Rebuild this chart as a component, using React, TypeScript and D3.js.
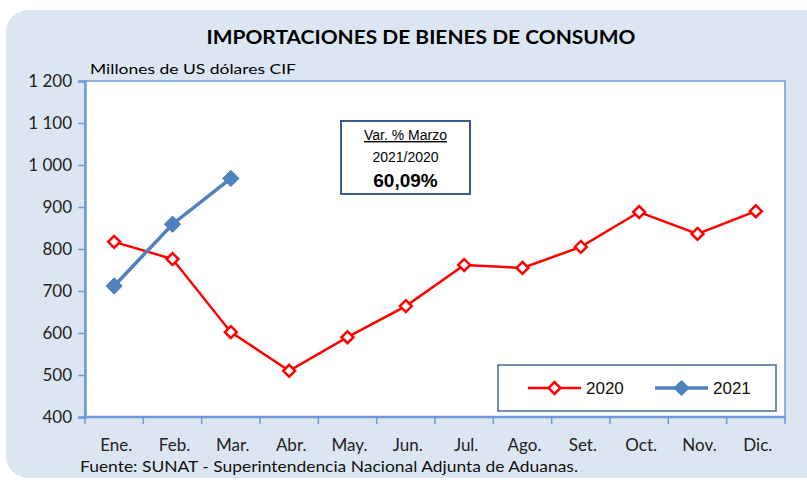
import React, { useEffect, useRef } from "react";
import * as d3 from "d3";

// data
const months = ["Ene.", "Feb.", "Mar.", "Abr.", "May.", "Jun.", "Jul.", "Ago.", "Set.", "Oct.", "Nov.", "Dic."];
const values2020 = [817, 776, 602, 510, 590, 664, 762, 755, 805, 888, 836, 890];
const values2021 = [712, 859, 968];
const yTicks = [400, 500, 600, 700, 800, 900, 1000, 1100, 1200];

const W = 807, H = 482;
const RED = "#ff0000";
const BLUE = "#4f81bd";
const AXIS = "#6f9ad8";

export default function App() {
  const ref = useRef<SVGSVGElement>(null);

  useEffect(() => {
    const svg = d3.select(ref.current);
    svg.selectAll("*").remove();

    const margin = { top: 81, right: 22, bottom: 65, left: 85 };
    const width = W - margin.left - margin.right;
    const height = H - margin.top - margin.bottom;

    // background panel
    svg.append("rect")
      .attr("x", 6).attr("y", 10)
      .attr("width", 830).attr("height", 468)
      .attr("rx", 22)
      .attr("fill", "#dce6f2");

    svg.append("text")
      .attr("x", 421).attr("y", 44)
      .attr("text-anchor", "middle")
      .attr("font-family", "Lato, 'Open Sans', sans-serif")
      .attr("font-weight", "bold")
      .attr("font-size", 19)
      .attr("textLength", 429)
      .attr("lengthAdjust", "spacingAndGlyphs")
      .attr("fill", "#000")
      .text("IMPORTACIONES DE BIENES DE CONSUMO");

    svg.append("text")
      .attr("x", 90).attr("y", 74)
      .attr("font-family", "Lato, sans-serif")
      .attr("font-size", 14)
      .attr("textLength", 206)
      .attr("lengthAdjust", "spacingAndGlyphs")
      .text("Millones de US dólares CIF");

    const g = svg.append("g").attr("transform", `translate(${margin.left},${margin.top})`);

    const x = d3.scaleBand().domain(months).range([0, width]);
    const y = d3.scaleLinear().domain([400, 1200]).range([height, 0]);
    const cx = (m: string) => (x(m) as number) + x.bandwidth() / 2;

    // plot area
    g.append("rect")
      .attr("width", width).attr("height", height)
      .attr("fill", "#fff")
      .attr("stroke", AXIS).attr("stroke-width", 1.5);

    // y axis
    const fmt = d3.formatLocale({ decimal: ",", thousands: " ", grouping: [3], currency: ["", ""] }).format(",d");
    const yAxis = g.append("g").call(d3.axisLeft(y).tickValues(yTicks).tickSize(7).tickFormat((d) => fmt(d as number)));
    yAxis.select(".domain").attr("stroke", AXIS).attr("stroke-width", 2.5);
    yAxis.selectAll(".tick line").attr("stroke", AXIS).attr("stroke-width", 1.5);
    yAxis.selectAll(".tick text")
      .attr("x", -13)
      .attr("font-family", "Lato, sans-serif")
      .attr("font-size", 17)
      .attr("fill", "#222");

    // x axis
    const xTickPos = d3.range(months.length + 1).map((i) => (i * width) / months.length);
    const xg = g.append("g").attr("transform", `translate(0,${height})`);
    xg.append("line").attr("x1", 0).attr("x2", width).attr("stroke", AXIS).attr("stroke-width", 2.5);
    xg.selectAll("line.t").data(xTickPos).enter().append("line")
      .attr("class", "t")
      .attr("x1", (d) => d).attr("x2", (d) => d)
      .attr("y1", 0).attr("y2", 7)
      .attr("stroke", AXIS).attr("stroke-width", 1.5);
    xg.selectAll("text").data(months).enter().append("text")
      .attr("x", (d) => cx(d) + 2)
      .attr("y", 34)
      .attr("text-anchor", "middle")
      .attr("font-family", "Lato, sans-serif")
      .attr("font-size", 17)
      .attr("fill", "#222")
      .text((d) => d);

    // lines
    const diamond = d3.symbol().type(d3.symbolDiamond2);
    const line = d3.line<number>().x((_, i) => cx(months[i])).y((d) => y(d));

    g.append("path").datum(values2020)
      .attr("d", line).attr("fill", "none")
      .attr("stroke", RED).attr("stroke-width", 2.5);
    g.selectAll("path.m20").data(values2020).enter().append("path")
      .attr("class", "m20")
      .attr("d", diamond.size(90)())
      .attr("transform", (d, i) => `translate(${cx(months[i])},${y(d)})`)
      .attr("fill", "#fff").attr("stroke", RED).attr("stroke-width", 2.5);

    g.append("path").datum(values2021)
      .attr("d", line).attr("fill", "none")
      .attr("stroke", BLUE).attr("stroke-width", 3.5);
    g.selectAll("path.m21").data(values2021).enter().append("path")
      .attr("class", "m21")
      .attr("d", diamond.size(170)())
      .attr("transform", (d, i) => `translate(${cx(months[i])},${y(d)})`)
      .attr("fill", BLUE).attr("stroke", BLUE).attr("stroke-width", 1);

    // annotation box
    const ann = svg.append("g").attr("transform", "translate(341,121)");
    ann.append("rect").attr("width", 129).attr("height", 73)
      .attr("fill", "#fff").attr("stroke", "#385d8a").attr("stroke-width", 2);
    ann.append("text").attr("x", 64.5).attr("y", 19).attr("text-anchor", "middle")
      .attr("font-family", "Arial, 'Liberation Sans', sans-serif").attr("font-size", 14)
      .attr("text-decoration", "underline").text("Var. % Marzo");
    ann.append("text").attr("x", 64.5).attr("y", 41).attr("text-anchor", "middle")
      .attr("font-family", "Arial, 'Liberation Sans', sans-serif").attr("font-size", 14)
      .text("2021/2020");
    ann.append("text").attr("x", 64.5).attr("y", 66).attr("text-anchor", "middle")
      .attr("font-family", "Arial, 'Liberation Sans', sans-serif").attr("font-size", 19)
      .attr("font-weight", "bold").text("60,09%");

    // legend
    const lg = svg.append("g").attr("transform", "translate(498,365)");
    lg.append("rect").attr("width", 278).attr("height", 46)
      .attr("fill", "#fff").attr("stroke", "#4a6a94").attr("stroke-width", 1.5);
    const items = [
      { label: "2020", color: RED, w: 2.5, fill: "#fff", size: 90, x0: 30 },
      { label: "2021", color: BLUE, w: 3.5, fill: BLUE, size: 150, x0: 157 },
    ];
    items.forEach((it) => {
      lg.append("line").attr("x1", it.x0).attr("x2", it.x0 + 53).attr("y1", 23).attr("y2", 23)
        .attr("stroke", it.color).attr("stroke-width", it.w);
      lg.append("path").attr("d", diamond.size(it.size)())
        .attr("transform", `translate(${it.x0 + 26.5},23)`)
        .attr("fill", it.fill).attr("stroke", it.color).attr("stroke-width", it.fill === "#fff" ? 2.5 : 1);
      lg.append("text").attr("x", it.x0 + 58).attr("y", 29)
        .attr("font-family", "Arial, 'Liberation Sans', sans-serif").attr("font-size", 17)
        .attr("fill", "#111").text(it.label);
    });

    // source
    svg.append("text")
      .attr("x", 80).attr("y", 472)
      .attr("font-family", "Lato, sans-serif")
      .attr("font-size", 16)
      .attr("textLength", 498)
      .attr("lengthAdjust", "spacingAndGlyphs")
      .attr("fill", "#111")
      .text("Fuente: SUNAT - Superintendencia Nacional Adjunta de Aduanas.");
  }, []);

  return (
    <svg ref={ref} width={W} height={H} style={{ position: "absolute", left: 0, top: 0, background: "#fff" }} />
  );
}
